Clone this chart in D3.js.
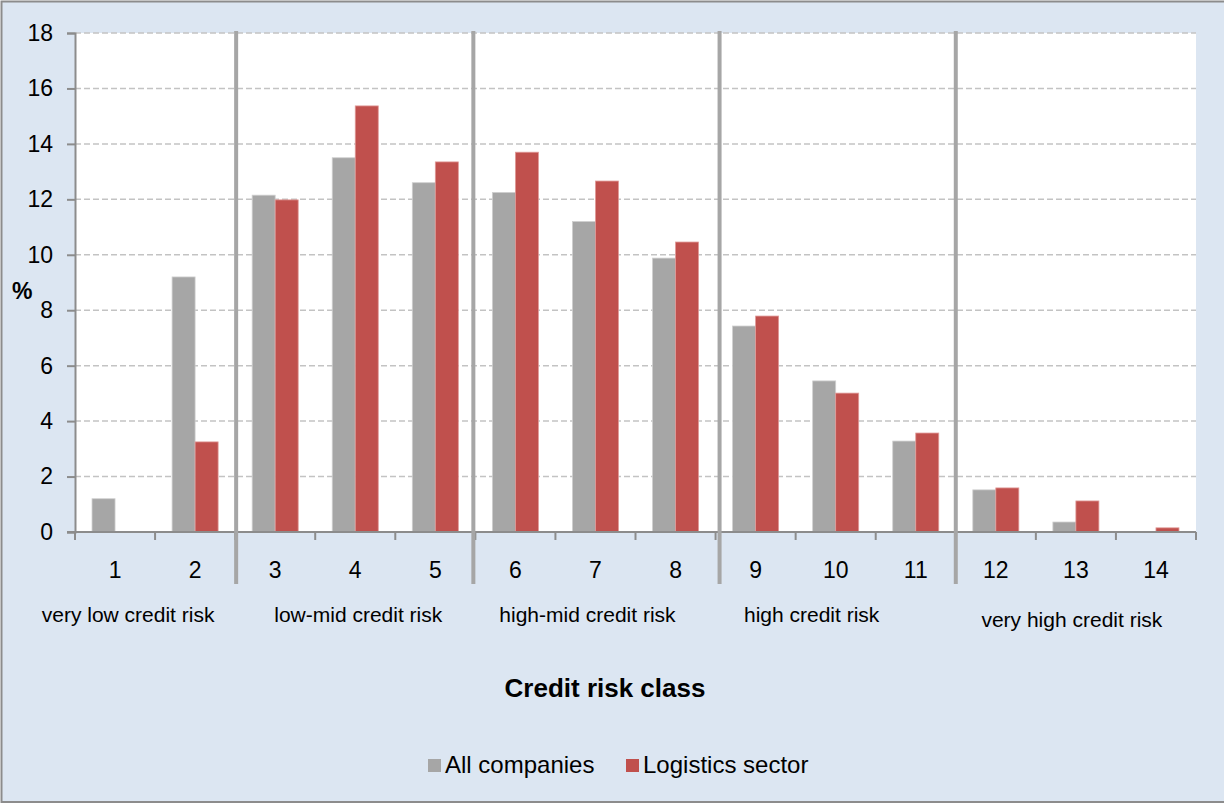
<!DOCTYPE html>
<html>
<head>
<meta charset="utf-8">
<script src="https://cdn.jsdelivr.net/npm/d3@7"></script>
<style>
    body { margin: 0; background: #fff; }
    svg { display: block; font-family: "Liberation Sans", Arial, sans-serif; }
</style>
</head>
<body>
<div id="chart"></div>
<script>
// data
const categories = ['1', '2', '3', '4', '5', '6', '7', '8', '9', '10', '11', '12', '13', '14'];
const series_names = ['All companies', 'Logistics sector'];
const all_companies = [1.2, 9.2, 12.15, 13.5, 12.6, 12.25, 11.2, 9.88, 7.43, 5.45, 3.28, 1.52, 0.36, 0];
const logistics_sector = [0, 3.25, 11.98, 15.37, 13.35, 13.7, 12.66, 10.46, 7.79, 5.01, 3.57, 1.59, 1.12, 0.15];
const y_ticks = [0, 2, 4, 6, 8, 10, 12, 14, 16, 18];
const group_names = ['very low credit risk', 'low-mid credit risk', 'high-mid credit risk', 'high credit risk', 'very high credit risk'];
const group_first = ['1', '3', '6', '9', '12'];
const group_last = ['2', '5', '8', '11', '14'];

const colors = ['#a6a6a6', '#c0504d'];
const bar_edges = ['#cfcfcf', '#e09a98'];

const width = 1224;
const height = 803;
const plot = {left: 75, right: 1196, top: 33, bottom: 532};

const svg = d3.select('#chart')
    .append('svg')
    .attr('width', width)
    .attr('height', height);

// outer frame
svg.append('rect')
    .attr('x', 1.5)
    .attr('y', 1.5)
    .attr('width', width + 10)
    .attr('height', height - 2.5)
    .attr('fill', '#dce6f2')
    .attr('stroke', '#8c8c8c')
    .attr('stroke-width', 2);

svg.append('rect')
    .attr('x', plot.left)
    .attr('y', plot.top)
    .attr('width', plot.right - plot.left)
    .attr('height', plot.bottom - plot.top)
    .attr('fill', '#ffffff');

const x_scale = d3.scaleBand()
    .domain(categories)
    .range([plot.left, plot.right]);

const x_inner = d3.scaleBand()
    .domain(series_names)
    .range([0, x_scale.bandwidth()])
    .paddingInner(0)
    .paddingOuter(0.74);

const y_scale = d3.scaleLinear()
    .domain([0, 18])
    .range([plot.bottom, plot.top]);

// dashed gridlines
svg.append('g')
    .selectAll('line')
    .data(y_ticks.filter(d => d > 0))
    .enter()
    .append('line')
    .attr('x1', plot.left)
    .attr('x2', plot.right)
    .attr('y1', d => y_scale(d))
    .attr('y2', d => y_scale(d))
    .attr('stroke', '#c3c3c3')
    .attr('stroke-width', 1.5)
    .attr('stroke-dasharray', '6,3');

// bars
const rows = categories.map((c, i) => ({
    cat: c,
    values: [all_companies[i], logistics_sector[i]]
}));

const groups = svg.append('g')
    .selectAll('g')
    .data(rows)
    .enter()
    .append('g')
    .attr('transform', d => 'translate(' + x_scale(d.cat) + ',0)');

groups.selectAll('rect')
    .data(d => d.values.map((v, j) => ({name: series_names[j], value: v, j: j})))
    .enter()
    .append('rect')
    .filter(d => d.value > 0)
    .attr('x', d => x_inner(d.name))
    .attr('y', d => y_scale(d.value))
    .attr('width', x_inner.bandwidth())
    .attr('height', d => y_scale(0) - y_scale(d.value))
    .attr('fill', d => colors[d.j])
    .attr('stroke', d => bar_edges[d.j])
    .attr('stroke-width', 0.8);

// y axis
const y_axis = d3.axisLeft(y_scale)
    .tickValues(y_ticks)
    .tickSize(8)
    .tickPadding(14);

const y_g = svg.append('g')
    .attr('transform', 'translate(' + plot.left + ',0)')
    .call(y_axis);

y_g.select('.domain').attr('stroke', '#8c8c8c').attr('stroke-width', 2);
y_g.selectAll('.tick line').attr('stroke', '#8c8c8c').attr('stroke-width', 2);
y_g.selectAll('.tick text')
    .attr('font-size', '23px')
    .attr('fill', '#000')
    .attr('font-family', '"Liberation Sans", Arial, sans-serif');

// x axis: ticks sit on category boundaries
const boundaries = categories.map(c => x_scale(c)).concat([plot.right]);

svg.append('line')
    .attr('x1', plot.left - 8)
    .attr('x2', plot.right)
    .attr('y1', plot.bottom)
    .attr('y2', plot.bottom)
    .attr('stroke', '#8c8c8c')
    .attr('stroke-width', 2);

svg.append('g')
    .selectAll('line')
    .data(boundaries)
    .enter()
    .append('line')
    .attr('x1', d => d)
    .attr('x2', d => d)
    .attr('y1', plot.bottom)
    .attr('y2', plot.bottom + 8)
    .attr('stroke', '#8c8c8c')
    .attr('stroke-width', 2);

svg.append('g')
    .selectAll('text')
    .data(categories)
    .enter()
    .append('text')
    .attr('x', d => x_scale(d) + x_scale.bandwidth() / 2)
    .attr('y', 578)
    .attr('text-anchor', 'middle')
    .attr('font-size', '23px')
    .text(d => d);

// thick separators between risk groups (hand-placed in the original, so a small nudge each)
const sep_nudge = [1, -2, 4, 0];

svg.append('g')
    .selectAll('line')
    .data(group_first.slice(1))
    .enter()
    .append('line')
    .attr('x1', (d, i) => x_scale(d) + sep_nudge[i])
    .attr('x2', (d, i) => x_scale(d) + sep_nudge[i])
    .attr('y1', plot.top - 2)
    .attr('y2', 584)
    .attr('stroke', '#a6a6a6')
    .attr('stroke-width', 4);

// group names under the class numbers
const label_nudge = [-27, 3, -8, -24, -4];
const label_drop = [0, 0, 0, 0, 5];

svg.append('g')
    .selectAll('text')
    .data(group_names)
    .enter()
    .append('text')
    .attr('x', (d, i) => (x_scale(group_first[i]) + x_scale(group_last[i]) + x_scale.bandwidth()) / 2 + label_nudge[i])
    .attr('y', (d, i) => 622 + label_drop[i])
    .attr('text-anchor', 'middle')
    .attr('font-size', '21px')
    .text(d => d);

// axis titles
svg.append('text')
    .attr('x', 605)
    .attr('y', 697)
    .attr('text-anchor', 'middle')
    .attr('font-size', '26px')
    .attr('font-weight', 'bold')
    .text('Credit risk class');

svg.append('text')
    .attr('x', 12)
    .attr('y', 299)
    .attr('font-size', '23px')
    .attr('font-weight', 'bold')
    .text('%');

// legend
const legend_x = [428, 626];
const legend = svg.append('g')
    .selectAll('g')
    .data(series_names)
    .enter()
    .append('g')
    .attr('transform', (d, i) => 'translate(' + legend_x[i] + ',759)');

legend.append('rect')
    .attr('width', 13)
    .attr('height', 13)
    .attr('fill', (d, i) => colors[i]);

legend.append('text')
    .attr('x', 17)
    .attr('y', 14)
    .attr('font-size', '24px')
    .text(d => d);
</script>
</body>
</html>
